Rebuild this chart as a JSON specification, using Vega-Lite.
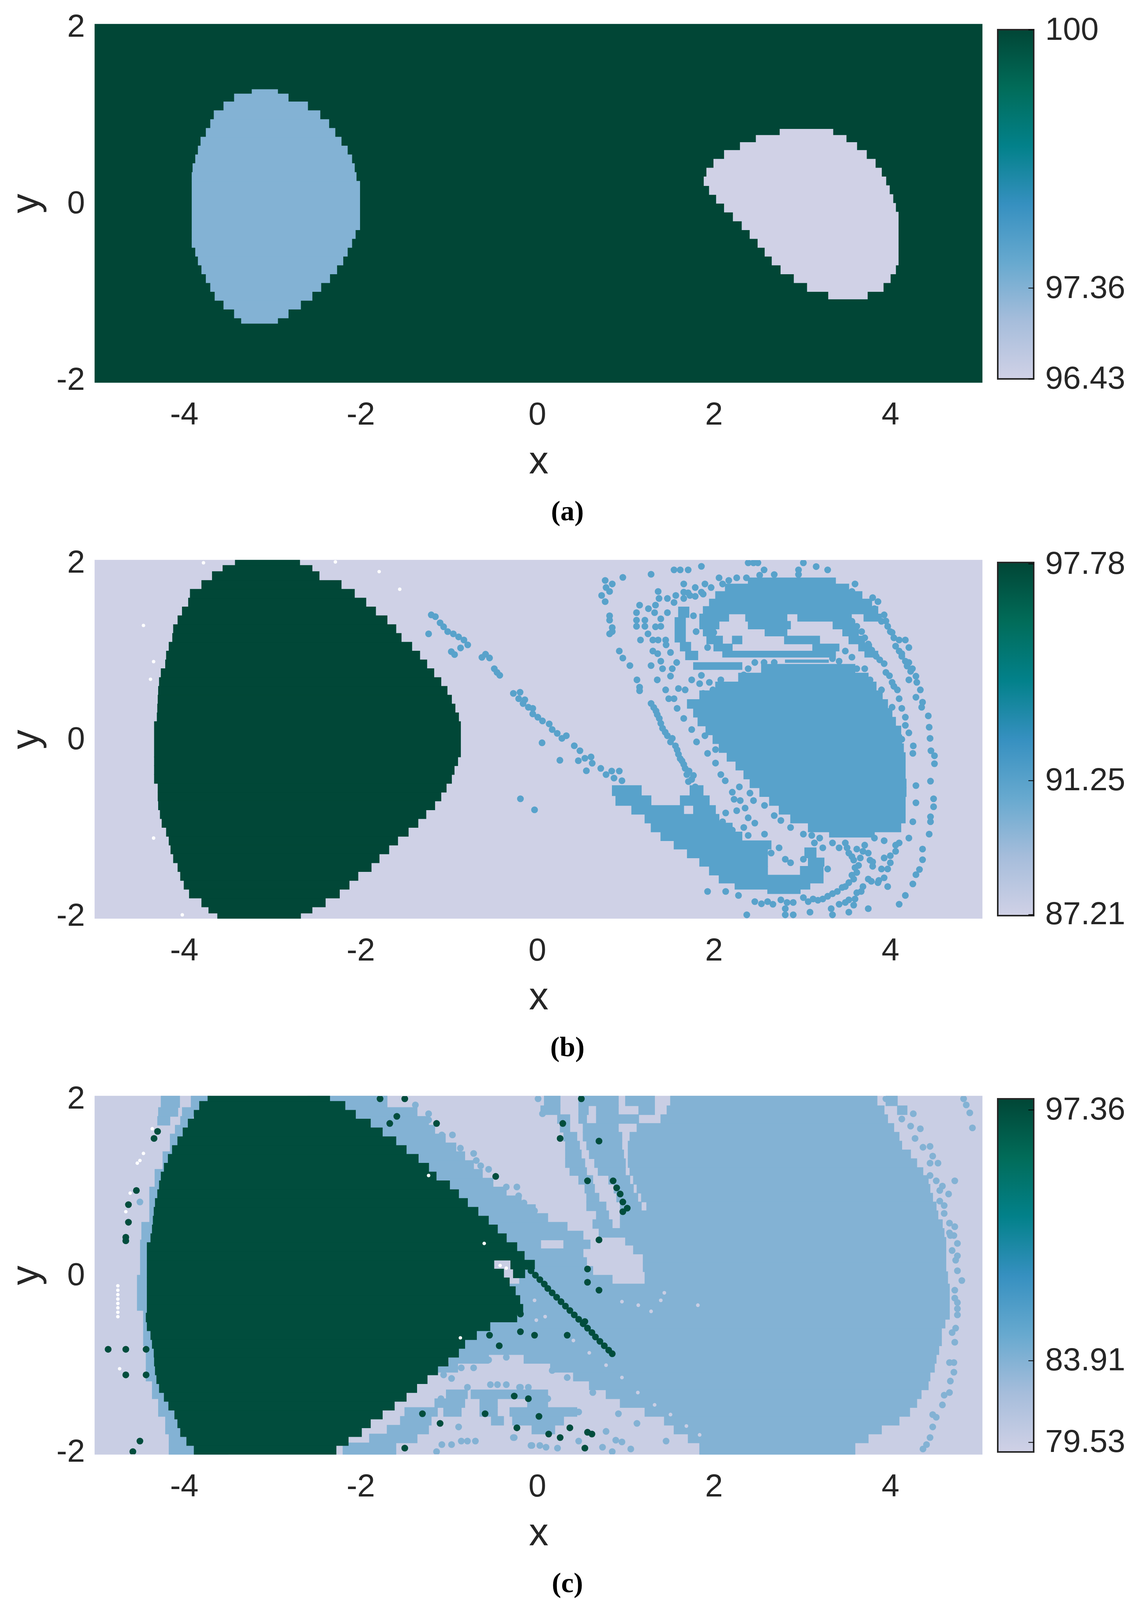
{
"$schema":"https://vega.github.io/schema/vega-lite/v6.json",
"background":"white",
"padding":{"left":17,"top":27,"right":10,"bottom":41},
"config":{"view":{"stroke":null},"axis":{"grid":false,"domain":false,"ticks":false,"labelFont":"Liberation Sans","labelFontSize":82,"labelLimit":500,"labelColor":"#262626","titleFont":"Liberation Sans","titleFontSize":100,"titleFontWeight":"normal","titleColor":"#262626","labelOverlap":false,"labelFlush":false}},
"resolve":{"scale":{"color":"independent","stroke":"independent"}},
"datasets":{
"a_spans":[
{"x":-5.01,"x2":5.04,"y":-2.03,"y2":2.03,"v":100},
{"x":-3.23,"x2":-2.94,"y":1.29,"y2":1.24,"v":97.36},{"x":-3.43,"x2":-2.82,"y":1.24,"y2":1.15,"v":97.36},{"x":-3.55,"x2":-2.6,"y":1.15,"y2":1.05,"v":97.36},{"x":-3.66,"x2":-2.46,"y":1.05,"y2":0.95,"v":97.36},{"x":-3.7,"x2":-2.36,"y":0.95,"y2":0.85,"v":97.36},{"x":-3.75,"x2":-2.29,"y":0.85,"y2":0.75,"v":97.36},{"x":-3.81,"x2":-2.22,"y":0.75,"y2":0.65,"v":97.36},{"x":-3.84,"x2":-2.15,"y":0.65,"y2":0.55,"v":97.36},{"x":-3.87,"x2":-2.1,"y":0.55,"y2":0.45,"v":97.36},{"x":-3.9,"x2":-2.07,"y":0.45,"y2":0.35,"v":97.36},{"x":-3.91,"x2":-2.05,"y":0.35,"y2":0.25,"v":97.36},{"x":-3.91,"x2":-2.01,"y":0.25,"y2":-0.3,"v":97.36},{"x":-3.91,"x2":-2.06,"y":-0.3,"y2":-0.4,"v":97.36},{"x":-3.91,"x2":-2.1,"y":-0.4,"y2":-0.5,"v":97.36},{"x":-3.87,"x2":-2.15,"y":-0.5,"y2":-0.6,"v":97.36},{"x":-3.84,"x2":-2.2,"y":-0.6,"y2":-0.7,"v":97.36},{"x":-3.8,"x2":-2.27,"y":-0.7,"y2":-0.8,"v":97.36},{"x":-3.75,"x2":-2.35,"y":-0.8,"y2":-0.9,"v":97.36},{"x":-3.7,"x2":-2.45,"y":-0.9,"y2":-1,"v":97.36},{"x":-3.65,"x2":-2.55,"y":-1,"y2":-1.1,"v":97.36},{"x":-3.55,"x2":-2.68,"y":-1.1,"y2":-1.2,"v":97.36},{"x":-3.43,"x2":-2.82,"y":-1.2,"y2":-1.3,"v":97.36},{"x":-3.35,"x2":-2.94,"y":-1.3,"y2":-1.36,"v":97.36},
{"x":2.75,"x2":3.35,"y":0.84,"y2":0.77,"v":96.43},{"x":2.48,"x2":3.5,"y":0.77,"y2":0.69,"v":96.43},{"x":2.3,"x2":3.62,"y":0.69,"y2":0.6,"v":96.43},{"x":2.12,"x2":3.73,"y":0.6,"y2":0.5,"v":96.43},{"x":2,"x2":3.83,"y":0.5,"y2":0.4,"v":96.43},{"x":1.92,"x2":3.9,"y":0.4,"y2":0.3,"v":96.43},{"x":1.89,"x2":3.95,"y":0.3,"y2":0.2,"v":96.43},{"x":1.95,"x2":3.99,"y":0.2,"y2":0.1,"v":96.43},{"x":2.03,"x2":4.03,"y":0.1,"y2":0,"v":96.43},{"x":2.12,"x2":4.06,"y":0,"y2":-0.1,"v":96.43},{"x":2.22,"x2":4.09,"y":-0.1,"y2":-0.2,"v":96.43},{"x":2.32,"x2":4.09,"y":-0.2,"y2":-0.3,"v":96.43},{"x":2.41,"x2":4.09,"y":-0.3,"y2":-0.4,"v":96.43},{"x":2.5,"x2":4.09,"y":-0.4,"y2":-0.5,"v":96.43},{"x":2.58,"x2":4.09,"y":-0.5,"y2":-0.6,"v":96.43},{"x":2.66,"x2":4.09,"y":-0.6,"y2":-0.7,"v":96.43},{"x":2.76,"x2":4.06,"y":-0.7,"y2":-0.8,"v":96.43},{"x":2.91,"x2":4,"y":-0.8,"y2":-0.9,"v":96.43},{"x":3.06,"x2":3.92,"y":-0.9,"y2":-1,"v":96.43},{"x":3.3,"x2":3.74,"y":-1,"y2":-1.085,"v":96.43}
],
"b_spans":[
{"x":-5.01,"x2":5.04,"y":-2.03,"y2":2.03,"v":87.21},
{"x":-3.42,"x2":-2.69,"y":2.03,"y2":1.97,"v":97.78},{"x":-3.56,"x2":-2.55,"y":1.97,"y2":1.9,"v":97.78},{"x":-3.68,"x2":-2.47,"y":1.9,"y2":1.8,"v":97.78},{"x":-3.8,"x2":-2.22,"y":1.8,"y2":1.7,"v":97.78},{"x":-3.93,"x2":-2.07,"y":1.7,"y2":1.6,"v":97.78},{"x":-3.95,"x2":-1.94,"y":1.6,"y2":1.5,"v":97.78},{"x":-4.02,"x2":-1.83,"y":1.5,"y2":1.4,"v":97.78},{"x":-4.07,"x2":-1.7,"y":1.4,"y2":1.3,"v":97.78},{"x":-4.12,"x2":-1.6,"y":1.3,"y2":1.2,"v":97.78},{"x":-4.13,"x2":-1.54,"y":1.2,"y2":1.1,"v":97.78},{"x":-4.17,"x2":-1.42,"y":1.1,"y2":1,"v":97.78},{"x":-4.2,"x2":-1.33,"y":1,"y2":0.9,"v":97.78},{"x":-4.21,"x2":-1.25,"y":0.9,"y2":0.8,"v":97.78},{"x":-4.26,"x2":-1.17,"y":0.8,"y2":0.7,"v":97.78},{"x":-4.28,"x2":-1.09,"y":0.7,"y2":0.6,"v":97.78},{"x":-4.29,"x2":-1.02,"y":0.6,"y2":0.5,"v":97.78},{"x":-4.295,"x2":-0.97,"y":0.5,"y2":0.4,"v":97.78},{"x":-4.3,"x2":-0.93,"y":0.4,"y2":0.3,"v":97.78},{"x":-4.305,"x2":-0.89,"y":0.3,"y2":0.2,"v":97.78},{"x":-4.336,"x2":-0.868,"y":0.2,"y2":-0.2,"v":97.78},{"x":-4.336,"x2":-0.9,"y":-0.2,"y2":-0.3,"v":97.78},{"x":-4.336,"x2":-0.94,"y":-0.3,"y2":-0.4,"v":97.78},{"x":-4.336,"x2":-0.97,"y":-0.4,"y2":-0.5,"v":97.78},{"x":-4.295,"x2":-1.03,"y":-0.5,"y2":-0.6,"v":97.78},{"x":-4.295,"x2":-1.09,"y":-0.6,"y2":-0.7,"v":97.78},{"x":-4.29,"x2":-1.16,"y":-0.7,"y2":-0.8,"v":97.78},{"x":-4.27,"x2":-1.26,"y":-0.8,"y2":-0.9,"v":97.78},{"x":-4.25,"x2":-1.35,"y":-0.9,"y2":-1,"v":97.78},{"x":-4.2,"x2":-1.46,"y":-1,"y2":-1.1,"v":97.78},{"x":-4.17,"x2":-1.58,"y":-1.1,"y2":-1.2,"v":97.78},{"x":-4.15,"x2":-1.68,"y":-1.2,"y2":-1.3,"v":97.78},{"x":-4.12,"x2":-1.79,"y":-1.3,"y2":-1.4,"v":97.78},{"x":-4.07,"x2":-1.88,"y":-1.4,"y2":-1.5,"v":97.78},{"x":-4.04,"x2":-2.03,"y":-1.5,"y2":-1.6,"v":97.78},{"x":-4,"x2":-2.13,"y":-1.6,"y2":-1.7,"v":97.78},{"x":-3.94,"x2":-2.24,"y":-1.7,"y2":-1.8,"v":97.78},{"x":-3.8,"x2":-2.4,"y":-1.8,"y2":-1.9,"v":97.78},{"x":-3.72,"x2":-2.55,"y":-1.9,"y2":-1.97,"v":97.78},{"x":-3.62,"x2":-2.68,"y":-1.97,"y2":-2.03,"v":97.78},
{"x":2.54,"x2":3.6,"y":0.85,"y2":0.75,"v":91.25},{"x":2.28,"x2":3.75,"y":0.75,"y2":0.65,"v":91.25},{"x":2.02,"x2":3.84,"y":0.65,"y2":0.55,"v":91.25},{"x":1.84,"x2":3.91,"y":0.55,"y2":0.45,"v":91.25},{"x":1.7,"x2":3.97,"y":0.45,"y2":0.35,"v":91.25},{"x":1.77,"x2":4.02,"y":0.35,"y2":0.25,"v":91.25},{"x":1.82,"x2":4.06,"y":0.25,"y2":0.15,"v":91.25},{"x":1.91,"x2":4.12,"y":0.15,"y2":0.05,"v":91.25},{"x":1.99,"x2":4.13,"y":0.05,"y2":-0.05,"v":91.25},{"x":2.06,"x2":4.15,"y":-0.05,"y2":-0.15,"v":91.25},{"x":2.15,"x2":4.17,"y":-0.15,"y2":-0.25,"v":91.25},{"x":2.25,"x2":4.17,"y":-0.25,"y2":-0.35,"v":91.25},{"x":2.34,"x2":4.17,"y":-0.35,"y2":-0.45,"v":91.25},{"x":2.41,"x2":4.18,"y":-0.45,"y2":-0.55,"v":91.25},{"x":2.52,"x2":4.18,"y":-0.55,"y2":-0.65,"v":91.25},{"x":2.63,"x2":4.17,"y":-0.65,"y2":-0.75,"v":91.25},{"x":2.74,"x2":4.17,"y":-0.75,"y2":-0.85,"v":91.25},{"x":2.87,"x2":4.17,"y":-0.85,"y2":-0.95,"v":91.25},{"x":3.07,"x2":4.12,"y":-0.95,"y2":-1.05,"v":91.25},{"x":3.31,"x2":3.82,"y":-1.05,"y2":-1.11,"v":91.25},
{"x":2.81,"x2":3.3,"y":0.9,"y2":0.87,"v":91.25},
{"x":2.39,"x2":3.38,"y":1.83,"y2":1.76,"v":91.25},{"x":2.13,"x2":3.53,"y":1.76,"y2":1.675,"v":91.25},{"x":2.02,"x2":3.68,"y":1.675,"y2":1.59,"v":91.25},{"x":1.95,"x2":3.79,"y":1.59,"y2":1.505,"v":91.25},{"x":1.88,"x2":3.86,"y":1.505,"y2":1.42,"v":91.25},
{"x":1.84,"x2":2.17,"y":1.42,"y2":1.337,"v":91.25},{"x":2.36,"x2":2.83,"y":1.42,"y2":1.337,"v":91.25},{"x":2.95,"x2":3.56,"y":1.42,"y2":1.337,"v":91.25},{"x":3.7,"x2":3.9,"y":1.42,"y2":1.337,"v":91.25},
{"x":1.84,"x2":2.06,"y":1.337,"y2":1.25,"v":91.25},{"x":2.39,"x2":2.87,"y":1.337,"y2":1.25,"v":91.25},{"x":3.35,"x2":3.6,"y":1.337,"y2":1.25,"v":91.25},
{"x":1.88,"x2":2.02,"y":1.25,"y2":1.17,"v":91.25},{"x":2.58,"x2":2.83,"y":1.25,"y2":1.17,"v":91.25},{"x":3.46,"x2":3.64,"y":1.25,"y2":1.17,"v":91.25},
{"x":1.92,"x2":2.1,"y":1.17,"y2":1.08,"v":91.25},{"x":2.21,"x2":2.32,"y":1.17,"y2":1.08,"v":91.25},{"x":2.8,"x2":3.2,"y":1.17,"y2":1.08,"v":91.25},{"x":3.53,"x2":3.71,"y":1.17,"y2":1.08,"v":91.25},
{"x":2,"x2":2.21,"y":1.08,"y2":1,"v":91.25},{"x":3.12,"x2":3.42,"y":1.08,"y2":1,"v":91.25},{"x":3.64,"x2":3.79,"y":1.08,"y2":1,"v":91.25},
{"x":2.1,"x2":3.38,"y":1,"y2":0.93,"v":91.25},{"x":3.71,"x2":3.86,"y":1,"y2":0.93,"v":91.25},
{"x":1.6,"x2":1.72,"y":1.5,"y2":1.38,"v":91.25},{"x":1.56,"x2":1.68,"y":1.38,"y2":1.1,"v":91.25},{"x":1.62,"x2":1.74,"y":1.1,"y2":1,"v":91.25},{"x":1.68,"x2":1.82,"y":1,"y2":0.9,"v":91.25},{"x":1.77,"x2":2.32,"y":0.87,"y2":0.79,"v":91.25},
{"x":0.85,"x2":1.18,"y":-0.525,"y2":-0.64,"v":91.25},{"x":1.73,"x2":1.88,"y":-0.525,"y2":-0.64,"v":91.25},
{"x":0.89,"x2":1.29,"y":-0.64,"y2":-0.75,"v":91.25},{"x":1.62,"x2":1.95,"y":-0.64,"y2":-0.75,"v":91.25},
{"x":1.07,"x2":1.66,"y":-0.75,"y2":-0.85,"v":91.25},{"x":1.77,"x2":2.02,"y":-0.75,"y2":-0.85,"v":91.25},
{"x":1.22,"x2":2.06,"y":-0.85,"y2":-0.95,"v":91.25},{"x":1.29,"x2":2.21,"y":-0.95,"y2":-1.05,"v":91.25},{"x":1.4,"x2":2.32,"y":-1.05,"y2":-1.15,"v":91.25},{"x":1.55,"x2":2.65,"y":-1.15,"y2":-1.245,"v":91.25},{"x":1.7,"x2":2.61,"y":-1.245,"y2":-1.345,"v":91.25},{"x":3.03,"x2":3.16,"y":-1.23,"y2":-1.345,"v":91.25},{"x":1.84,"x2":2.61,"y":-1.345,"y2":-1.44,"v":91.25},{"x":3.07,"x2":3.25,"y":-1.345,"y2":-1.44,"v":91.25},{"x":1.95,"x2":2.61,"y":-1.44,"y2":-1.54,"v":91.25},{"x":2.98,"x2":3.24,"y":-1.44,"y2":-1.54,"v":91.25},{"x":2.06,"x2":3.24,"y":-1.54,"y2":-1.63,"v":91.25},{"x":2.24,"x2":3.09,"y":-1.63,"y2":-1.7,"v":91.25},{"x":2.61,"x2":2.98,"y":-1.7,"y2":-1.75,"v":91.25}
],
"b_dots":[
{"x":-1.2,"y":1.41,"v":91.25},{"x":-1.153,"y":1.39,"v":91.25},{"x":-1.23,"y":1.195,"v":91.25},{"x":-1.1,"y":1.32,"v":91.25},{"x":-1.06,"y":1.275,"v":91.25},{"x":-1.014,"y":1.22,"v":91.25},{"x":-0.95,"y":1.195,"v":91.25},{"x":-0.89,"y":1.16,"v":91.25},{"x":-0.83,"y":1.125,"v":91.25},{"x":-0.787,"y":1.07,"v":91.25},{"x":-0.868,"y":1.035,"v":91.25},{"x":-0.973,"y":0.993,"v":91.25},{"x":-0.936,"y":0.96,"v":91.25},{"x":-0.626,"y":0.928,"v":91.25},{"x":-0.585,"y":0.964,"v":91.25},{"x":-0.54,"y":0.922,"v":91.25},{"x":-0.486,"y":0.8,"v":91.25},{"x":-0.455,"y":0.758,"v":91.25},{"x":-0.424,"y":0.725,"v":91.25},
{"x":-0.27,"y":0.52,"v":91.25},{"x":-0.194,"y":0.533,"v":91.25},{"x":-0.21,"y":0.46,"v":91.25},{"x":-0.14,"y":0.448,"v":91.25},{"x":-0.16,"y":0.405,"v":91.25},{"x":-0.1,"y":0.363,"v":91.25},{"x":-0.05,"y":0.35,"v":91.25},{"x":-0.05,"y":0.287,"v":91.25},{"x":0.007,"y":0.25,"v":91.25},{"x":0.06,"y":0.208,"v":91.25},{"x":0.136,"y":0.174,"v":91.25},{"x":0.17,"y":0.11,"v":91.25},{"x":0.227,"y":0.067,"v":91.25},{"x":0.28,"y":0.01,"v":91.25},{"x":0.33,"y":0.04,"v":91.25},{"x":0.055,"y":-0.04,"v":91.25},{"x":0.257,"y":-0.238,"v":91.25},{"x":0.42,"y":-0.074,"v":91.25},{"x":0.484,"y":-0.13,"v":91.25},{"x":0.54,"y":-0.215,"v":91.25},{"x":0.61,"y":-0.2,"v":91.25},{"x":0.466,"y":-0.243,"v":91.25},{"x":0.557,"y":-0.357,"v":91.25},{"x":0.623,"y":-0.272,"v":91.25},{"x":0.72,"y":-0.33,"v":91.25},{"x":0.78,"y":-0.4,"v":91.25},{"x":0.844,"y":-0.36,"v":91.25},{"x":0.93,"y":-0.36,"v":91.25},{"x":0.87,"y":-0.44,"v":91.25},{"x":0.96,"y":-0.47,"v":91.25},{"x":-0.19,"y":-0.675,"v":91.25},{"x":-0.03,"y":-0.8,"v":91.25},
{"x":1.29,"y":0.406,"v":91.25},{"x":1.346,"y":0.32,"v":91.25},{"x":1.383,"y":0.236,"v":91.25},{"x":1.42,"y":0.124,"v":91.25},{"x":1.475,"y":0.04,"v":91.25},{"x":1.51,"y":-0.03,"v":91.25},{"x":1.566,"y":-0.075,"v":91.25},{"x":1.6,"y":-0.17,"v":91.25},{"x":1.64,"y":-0.245,"v":91.25},{"x":1.676,"y":-0.33,"v":91.25},{"x":1.695,"y":-0.4,"v":91.25},{"x":1.77,"y":-0.41,"v":91.25},{"x":1.713,"y":-0.48,"v":91.25},
{"x":1.32,"y":0.36,"v":91.25},{"x":1.36,"y":0.28,"v":91.25},{"x":1.4,"y":0.18,"v":91.25},{"x":1.45,"y":0.08,"v":91.25},{"x":1.53,"y":0.01,"v":91.25},{"x":1.585,"y":-0.12,"v":91.25},{"x":1.62,"y":-0.22,"v":91.25},{"x":1.66,"y":-0.285,"v":91.25},{"x":1.72,"y":-0.36,"v":91.25},{"x":1.75,"y":-0.455,"v":91.25},{"x":1.79,"y":-0.54,"v":91.25},
{"x":3.62,"y":1.28,"v":91.25},{"x":3.71,"y":1.15,"v":91.25},{"x":3.79,"y":1.01,"v":91.25},{"x":3.88,"y":0.9,"v":91.25},{"x":3.99,"y":0.72,"v":91.25},{"x":4.04,"y":0.6,"v":91.25},{"x":3.95,"y":1.34,"v":91.25},{"x":4.04,"y":1.15,"v":91.25},{"x":4.1,"y":1,"v":91.25},{"x":4.17,"y":0.885,"v":91.25},{"x":4.23,"y":0.77,"v":91.25},
{"x":3.51,"y":-1.23,"v":91.25},{"x":3.565,"y":-1.33,"v":91.25},{"x":3.64,"y":-1.43,"v":91.25},{"x":3.62,"y":-1.51,"v":91.25},{"x":3.585,"y":-1.585,"v":91.25},{"x":3.49,"y":-1.67,"v":91.25},{"x":3.4,"y":-1.725,"v":91.25},{"x":3.29,"y":-1.78,"v":91.25},{"x":3.18,"y":-1.825,"v":91.25},{"x":3.07,"y":-1.84,"v":91.25},{"x":2.83,"y":-1.85,"v":91.25},{"x":2.61,"y":-1.84,"v":91.25},{"x":3.69,"y":-1.27,"v":91.25},{"x":3.77,"y":-1.37,"v":91.25},{"x":4,"y":-1.32,"v":91.25},{"x":4.06,"y":-1.2,"v":91.25},{"x":3.67,"y":-1.725,"v":91.25},{"x":3.785,"y":-1.61,"v":91.25},{"x":3.6,"y":-1.81,"v":91.25},{"x":3.49,"y":-1.85,"v":91.25},{"x":3.87,"y":-1.6,"v":91.25},
{"x":1.49,"y":0.46,"v":91.25},{"x":1.585,"y":0.35,"v":91.25},{"x":1.66,"y":0.236,"v":91.25},{"x":1.75,"y":0.11,"v":91.25},{"x":1.805,"y":-0.03,"v":91.25},{"x":1.9,"y":0.04,"v":91.25},{"x":1.93,"y":-0.16,"v":91.25},{"x":2.02,"y":-0.117,"v":91.25},{"x":2.02,"y":-0.27,"v":91.25},{"x":2.08,"y":-0.4,"v":91.25},{"x":2.13,"y":-0.47,"v":91.25},{"x":2.21,"y":-0.6,"v":91.25},{"x":2.29,"y":-0.54,"v":91.25},{"x":2.23,"y":-0.68,"v":91.25},{"x":2.3,"y":-0.695,"v":91.25},{"x":2.26,"y":-0.81,"v":91.25},{"x":2.41,"y":-0.61,"v":91.25},{"x":2.45,"y":-0.695,"v":91.25},{"x":2.355,"y":-0.78,"v":91.25},{"x":2.39,"y":-0.89,"v":91.25},{"x":2.465,"y":-0.95,"v":91.25},{"x":2.135,"y":-0.835,"v":91.25},{"x":2.1,"y":-0.935,"v":91.25},{"x":2.21,"y":-1.03,"v":91.25},{"x":2.34,"y":-1,"v":91.25},{"x":2.39,"y":-1.09,"v":91.25},{"x":2.575,"y":-1.075,"v":91.25},
{"x":2.575,"y":-0.75,"v":91.25},{"x":2.685,"y":-0.865,"v":91.25},{"x":2.76,"y":-0.92,"v":91.25},{"x":2.87,"y":-1,"v":91.25},{"x":3.015,"y":-1.075,"v":91.25},{"x":3.11,"y":-1.09,"v":91.25},{"x":3.2,"y":-1.12,"v":91.25},{"x":3.14,"y":-1.175,"v":91.25},{"x":3.235,"y":-1.23,"v":91.25},{"x":3.345,"y":-1.175,"v":91.25},{"x":3.42,"y":-1.23,"v":91.25},{"x":2.74,"y":-1.23,"v":91.25},{"x":2.65,"y":-1.29,"v":91.25},{"x":2.81,"y":-1.36,"v":91.25},{"x":3.015,"y":-1.36,"v":91.25},{"x":2.87,"y":-1.4,"v":91.25},{"x":3.29,"y":-1.47,"v":91.25},
{"x":3.49,"y":-1.175,"v":91.25},{"x":3.53,"y":-1.29,"v":91.25},{"x":3.585,"y":-1.37,"v":91.25},{"x":3.6,"y":-1.455,"v":91.25},{"x":3.565,"y":-1.54,"v":91.25},{"x":3.53,"y":-1.625,"v":91.25},{"x":3.455,"y":-1.68,"v":91.25},{"x":3.345,"y":-1.75,"v":91.25},{"x":3.235,"y":-1.81,"v":91.25},{"x":3.125,"y":-1.81,"v":91.25},{"x":3.015,"y":-1.795,"v":91.25},{"x":2.9,"y":-1.85,"v":91.25},{"x":2.76,"y":-1.82,"v":91.25},{"x":2.67,"y":-1.87,"v":91.25},{"x":2.54,"y":-1.865,"v":91.25},{"x":2.465,"y":-1.84,"v":91.25},{"x":2.28,"y":-1.77,"v":91.25},{"x":2.135,"y":-1.725,"v":91.25},{"x":1.93,"y":-1.725,"v":91.25},{"x":2.374,"y":-1.99,"v":91.25},{"x":2.81,"y":-1.92,"v":91.25},{"x":2.81,"y":-1.99,"v":91.25},{"x":2.9,"y":-1.99,"v":91.25},{"x":3.09,"y":-1.96,"v":91.25},{"x":3.345,"y":-1.99,"v":91.25},{"x":3.33,"y":-1.92,"v":91.25},{"x":3.62,"y":-1.245,"v":91.25},{"x":3.66,"y":-1.345,"v":91.25},{"x":3.71,"y":-1.2,"v":91.25},{"x":3.75,"y":-1.29,"v":91.25},{"x":3.8,"y":-1.39,"v":91.25},{"x":3.8,"y":-1.44,"v":91.25},{"x":3.82,"y":-1.12,"v":91.25},{"x":3.93,"y":-1.15,"v":91.25},
{"x":3.93,"y":-1.345,"v":91.25},{"x":4,"y":-1.4,"v":91.25},{"x":4.06,"y":-1.27,"v":91.25},{"x":4.1,"y":-1.175,"v":91.25},{"x":3.9,"y":-1.47,"v":91.25},{"x":3.97,"y":-1.47,"v":91.25},{"x":3.93,"y":-1.57,"v":91.25},{"x":3.86,"y":-1.625,"v":91.25},{"x":3.97,"y":-1.67,"v":91.25},{"x":3.75,"y":-1.585,"v":91.25},{"x":3.69,"y":-1.67,"v":91.25},{"x":3.62,"y":-1.74,"v":91.25},{"x":3.53,"y":-1.82,"v":91.25},{"x":3.585,"y":-1.88,"v":91.25},{"x":3.53,"y":-1.96,"v":91.25},{"x":3.75,"y":-1.92,"v":91.25},{"x":3.42,"y":-1.87,"v":91.25},
{"x":3.6,"y":1.76,"v":91.25},{"x":3.8,"y":1.605,"v":91.25},{"x":3.86,"y":1.56,"v":91.25},{"x":3.93,"y":1.41,"v":91.25},{"x":3.97,"y":1.28,"v":91.25},{"x":4.02,"y":1.21,"v":91.25},{"x":4.1,"y":1.125,"v":91.25},{"x":4.17,"y":1.125,"v":91.25},{"x":4.21,"y":1.04,"v":91.25},{"x":4.13,"y":0.97,"v":91.25},{"x":4.21,"y":0.87,"v":91.25},{"x":4.25,"y":0.8,"v":91.25},{"x":4.29,"y":0.715,"v":91.25},{"x":4.3,"y":0.645,"v":91.25},{"x":4.34,"y":0.56,"v":91.25},{"x":4.29,"y":0.476,"v":91.25},{"x":4.365,"y":0.42,"v":91.25},{"x":4.355,"y":0.363,"v":91.25},{"x":4.43,"y":0.265,"v":91.25},{"x":4.44,"y":0.137,"v":91.25},{"x":4.45,"y":0.01,"v":91.25},{"x":4.46,"y":-0.13,"v":91.25},{"x":4.5,"y":-0.187,"v":91.25},{"x":4.5,"y":-0.277,"v":91.25},{"x":4.455,"y":-0.475,"v":91.25},{"x":4.29,"y":-0.525,"v":91.25},{"x":4.49,"y":-0.675,"v":91.25},{"x":4.29,"y":-0.72,"v":91.25},{"x":4.49,"y":-0.765,"v":91.25},{"x":4.455,"y":-0.878,"v":91.25},{"x":4.455,"y":-0.935,"v":91.25},{"x":4.255,"y":-0.935,"v":91.25},{"x":4.44,"y":-1.075,"v":91.25},{"x":4.21,"y":-1.12,"v":91.25},{"x":4.365,"y":-1.245,"v":91.25},{"x":4.365,"y":-1.365,"v":91.25},{"x":4.33,"y":-1.476,"v":91.25},{"x":4.29,"y":-1.535,"v":91.25},{"x":4.255,"y":-1.64,"v":91.25},{"x":4.17,"y":-1.77,"v":91.25},{"x":4.1,"y":-1.87,"v":91.25},{"x":4.26,"y":-0.075,"v":91.25},{"x":4.255,"y":-0.16,"v":91.25},{"x":4.21,"y":0.073,"v":91.25},{"x":4.17,"y":0.158,"v":91.25},{"x":4.17,"y":0.25,"v":91.25},{"x":4.13,"y":0,"v":91.25},{"x":4.02,"y":0.363,"v":91.25},{"x":3.9,"y":0.56,"v":91.25},
{"x":3.565,"y":1.675,"v":91.25},{"x":3.82,"y":1.48,"v":91.25},{"x":3.9,"y":1.337,"v":91.25},{"x":4,"y":1.22,"v":91.25},{"x":4.06,"y":1.055,"v":91.25},{"x":4.13,"y":0.94,"v":91.25},{"x":4.19,"y":0.83,"v":91.25},{"x":4.21,"y":0.673,"v":91.25},
{"x":3.565,"y":1.337,"v":91.25},{"x":3.675,"y":1.22,"v":91.25},{"x":3.75,"y":1.08,"v":91.25},{"x":3.84,"y":0.94,"v":91.25},{"x":3.93,"y":0.857,"v":91.25},{"x":3.95,"y":0.758,"v":91.25},{"x":4.02,"y":0.645,"v":91.25},{"x":4.08,"y":0.56,"v":91.25},{"x":4.1,"y":0.46,"v":91.25},{"x":4.13,"y":0.35,"v":91.25},
{"x":3.565,"y":0.93,"v":91.25},{"x":3.71,"y":0.8,"v":91.25},{"x":3.77,"y":0.673,"v":91.25},{"x":3.62,"y":0.8,"v":91.25},{"x":3.49,"y":1,"v":91.25},{"x":3.42,"y":0.885,"v":91.25},{"x":3.345,"y":0.914,"v":91.25},
{"x":2.39,"y":2,"v":91.25},{"x":2.45,"y":2,"v":91.25},{"x":2.5,"y":2,"v":91.25},{"x":3.015,"y":2,"v":91.25},{"x":3.16,"y":1.957,"v":91.25},{"x":3.29,"y":1.92,"v":91.25},{"x":2.96,"y":1.92,"v":91.25},{"x":2.96,"y":1.867,"v":91.25},{"x":2.57,"y":1.92,"v":91.25},{"x":2.685,"y":1.867,"v":91.25},{"x":2.52,"y":1.86,"v":91.25},{"x":2.37,"y":1.83,"v":91.25},{"x":2.26,"y":1.83,"v":91.25},{"x":2.17,"y":1.8,"v":91.25},{"x":2.06,"y":1.83,"v":91.25},{"x":2.1,"y":1.76,"v":91.25},{"x":1.97,"y":1.72,"v":91.25},{"x":1.9,"y":1.76,"v":91.25},{"x":1.79,"y":1.72,"v":91.25},{"x":1.66,"y":1.76,"v":91.25},{"x":1.66,"y":1.667,"v":91.25},{"x":1.86,"y":1.667,"v":91.25},{"x":1.73,"y":1.63,"v":91.25},
{"x":1.86,"y":1.96,"v":91.25},{"x":1.71,"y":1.92,"v":91.25},{"x":1.55,"y":1.92,"v":91.25},{"x":1.62,"y":1.92,"v":91.25},{"x":1.29,"y":1.87,"v":91.25},{"x":0.97,"y":1.835,"v":91.25},{"x":0.77,"y":1.8,"v":91.25},{"x":0.85,"y":1.76,"v":91.25},{"x":0.78,"y":1.72,"v":91.25},{"x":0.82,"y":1.675,"v":91.25},{"x":0.73,"y":1.63,"v":91.25},{"x":0.77,"y":1.56,"v":91.25},{"x":0.82,"y":1.4,"v":91.25},{"x":0.82,"y":1.35,"v":91.25},{"x":0.85,"y":1.266,"v":91.25},{"x":0.85,"y":1.22,"v":91.25},{"x":0.82,"y":1.195,"v":91.25},{"x":0.93,"y":1,"v":91.25},{"x":0.97,"y":0.92,"v":91.25},{"x":1.05,"y":0.835,"v":91.25},{"x":1.13,"y":0.673,"v":91.25},{"x":1.16,"y":0.59,"v":91.25},{"x":1.16,"y":0.55,"v":91.25},{"x":1.29,"y":0.835,"v":91.25},{"x":1.36,"y":0.673,"v":91.25},{"x":1.455,"y":0.56,"v":91.25},
{"x":1.16,"y":1.52,"v":91.25},{"x":1.125,"y":1.435,"v":91.25},{"x":1.125,"y":1.35,"v":91.25},{"x":1.125,"y":1.28,"v":91.25},{"x":1.22,"y":1.35,"v":91.25},{"x":1.22,"y":1.28,"v":91.25},{"x":1.255,"y":1.195,"v":91.25},{"x":1.31,"y":1.125,"v":91.25},{"x":1.37,"y":1.125,"v":91.25},{"x":1.17,"y":1.125,"v":91.25},{"x":1.26,"y":1.48,"v":91.25},{"x":1.33,"y":1.435,"v":91.25},{"x":1.34,"y":1.52,"v":91.25},{"x":1.4,"y":1.365,"v":91.25},{"x":1.4,"y":1.28,"v":91.25},{"x":1.34,"y":1.275,"v":91.25},{"x":1.455,"y":1.125,"v":91.25},{"x":1.46,"y":1.07,"v":91.25},{"x":1.31,"y":1,"v":91.25},{"x":1.365,"y":0.97,"v":91.25},{"x":1.4,"y":0.885,"v":91.25},{"x":1.42,"y":0.8,"v":91.25},{"x":1.51,"y":0.716,"v":91.25},{"x":1.37,"y":1.675,"v":91.25},{"x":1.38,"y":1.596,"v":91.25},{"x":1.475,"y":1.596,"v":91.25},{"x":1.57,"y":1.63,"v":91.25},{"x":1.55,"y":1.55,"v":91.25},{"x":1.475,"y":1.435,"v":91.25},{"x":1.66,"y":1.596,"v":91.25},{"x":1.71,"y":1.66,"v":91.25},{"x":1.79,"y":1.62,"v":91.25},{"x":1.88,"y":1.645,"v":91.25},{"x":1.77,"y":1.4,"v":91.25},
{"x":1.8,"y":1.22,"v":91.25},{"x":2,"y":1.21,"v":91.25},{"x":1.93,"y":1.04,"v":91.25},{"x":1.51,"y":0.984,"v":91.25},{"x":1.53,"y":0.8,"v":91.25},{"x":1.58,"y":0.87,"v":91.25},{"x":1.86,"y":0.724,"v":91.25},{"x":1.75,"y":0.673,"v":91.25},{"x":1.84,"y":0.63,"v":91.25},{"x":1.95,"y":0.645,"v":91.25},{"x":2.08,"y":0.673,"v":91.25},{"x":1.88,"y":0.52,"v":91.25},{"x":1.676,"y":0.56,"v":91.25},{"x":1.55,"y":0.46,"v":91.25},{"x":1.6,"y":0.575,"v":91.25},{"x":1.99,"y":0.56,"v":91.25},{"x":2.39,"y":0.8,"v":91.25},{"x":2.34,"y":0.73,"v":91.25},{"x":2.465,"y":0.87,"v":91.25},{"x":2.57,"y":0.87,"v":91.25},{"x":2.685,"y":0.87,"v":91.25}
],
"b_specks":[{"x":-1.79,"y":1.9},{"x":-1.557,"y":1.7},{"x":-2.286,"y":2.01},{"x":-3.78,"y":2},{"x":-4.02,"y":-1.99},{"x":-4.46,"y":1.29},{"x":-4.345,"y":0.88},{"x":-4.38,"y":0.68},{"x":-4.345,"y":-1.12}],
"c_spans":[
{"x":-5.01,"x2":5.04,"y":-2.03,"y2":2.03,"v":79.53},
{"x":1.51,"x2":3.85,"y":2.03,"y2":1.92,"v":83.91},{"x":1,"x2":1.33,"y":2.03,"y2":1.92,"v":83.91},{"x":3.95,"x2":4.08,"y":2.03,"y2":1.92,"v":83.91},{"x":0.47,"x2":0.92,"y":2.03,"y2":1.92,"v":83.91},{"x":0.08,"x2":0.26,"y":2.03,"y2":1.92,"v":83.91},
{"x":1.47,"x2":3.93,"y":1.92,"y2":1.82,"v":83.91},{"x":1.15,"x2":1.33,"y":1.92,"y2":1.82,"v":83.91},{"x":4.08,"x2":4.19,"y":1.92,"y2":1.82,"v":83.91},{"x":0.67,"x2":0.92,"y":1.92,"y2":1.82,"v":83.91},{"x":0.47,"x2":0.58,"y":1.92,"y2":1.82,"v":83.91},{"x":0.04,"x2":0.26,"y":1.92,"y2":1.82,"v":83.91},
{"x":1.4,"x2":3.97,"y":1.82,"y2":1.72,"v":83.91},{"x":0.67,"x2":1.15,"y":1.82,"y2":1.72,"v":83.91},{"x":0.47,"x2":0.56,"y":1.82,"y2":1.72,"v":83.91},{"x":0.23,"x2":0.37,"y":1.82,"y2":1.72,"v":83.91},
{"x":1.13,"x2":4.04,"y":1.72,"y2":1.62,"v":83.91},{"x":0.52,"x2":0.92,"y":1.72,"y2":1.62,"v":83.91},{"x":0.26,"x2":0.37,"y":1.72,"y2":1.62,"v":83.91},
{"x":1.05,"x2":4.1,"y":1.62,"y2":1.52,"v":83.91},{"x":0.52,"x2":0.96,"y":1.62,"y2":1.52,"v":83.91},{"x":0.3,"x2":0.45,"y":1.62,"y2":1.52,"v":83.91},
{"x":1.03,"x2":4.13,"y":1.52,"y2":1.42,"v":83.91},{"x":0.56,"x2":0.96,"y":1.52,"y2":1.42,"v":83.91},{"x":0.32,"x2":0.48,"y":1.52,"y2":1.42,"v":83.91},
{"x":1.03,"x2":4.23,"y":1.42,"y2":1.32,"v":83.91},{"x":0.59,"x2":0.98,"y":1.42,"y2":1.32,"v":83.91},{"x":0.32,"x2":0.5,"y":1.42,"y2":1.32,"v":83.91},
{"x":1.03,"x2":4.3,"y":1.32,"y2":1.22,"v":83.91},{"x":0.65,"x2":1,"y":1.32,"y2":1.22,"v":83.91},{"x":0.32,"x2":0.54,"y":1.32,"y2":1.22,"v":83.91},
{"x":1.05,"x2":4.37,"y":1.22,"y2":1.13,"v":83.91},{"x":0.69,"x2":1,"y":1.22,"y2":1.13,"v":83.91},{"x":0.37,"x2":0.56,"y":1.22,"y2":1.13,"v":83.91},
{"x":1.09,"x2":4.43,"y":1.13,"y2":1.03,"v":83.91},{"x":0.81,"x2":1.05,"y":1.13,"y2":1.03,"v":83.91},{"x":0.47,"x2":0.63,"y":1.13,"y2":1.03,"v":83.91},
{"x":1.13,"x2":4.45,"y":1.03,"y2":0.93,"v":83.91},{"x":0.87,"x2":1.09,"y":1.03,"y2":0.93,"v":83.91},{"x":0.54,"x2":0.65,"y":1.03,"y2":0.93,"v":83.91},
{"x":1.18,"x2":4.48,"y":0.93,"y2":0.83,"v":83.91},{"x":0.9,"x2":1.14,"y":0.93,"y2":0.83,"v":83.91},{"x":0.56,"x2":0.7,"y":0.93,"y2":0.83,"v":83.91},
{"x":1.24,"x2":4.52,"y":0.83,"y2":0.73,"v":83.91},{"x":0.94,"x2":1.18,"y":0.83,"y2":0.73,"v":83.91},{"x":0.56,"x2":0.78,"y":0.83,"y2":0.73,"v":83.91},
{"x":0.94,"x2":4.54,"y":0.73,"y2":0.63,"v":83.91},{"x":0.67,"x2":0.81,"y":0.73,"y2":0.63,"v":83.91},
{"x":0.94,"x2":4.59,"y":0.63,"y2":0.53,"v":83.91},{"x":0.63,"x2":0.85,"y":0.63,"y2":0.53,"v":83.91},
{"x":0.7,"x2":4.61,"y":0.53,"y2":0.43,"v":83.91},{"x":1,"x2":4.63,"y":0.43,"y2":0.34,"v":83.91},{"x":1.09,"x2":4.63,"y":0.34,"y2":0.24,"v":83.91},{"x":1.2,"x2":4.63,"y":0.24,"y2":0.14,"v":83.91},{"x":1.2,"x2":4.63,"y":0.14,"y2":0.04,"v":83.91},{"x":1.22,"x2":4.65,"y":0.04,"y2":-0.1,"v":83.91},
{"x":-2.6,"x2":-1.7,"y":2.03,"y2":1.9,"v":83.91},{"x":-2.3,"x2":-1.36,"y":1.9,"y2":1.8,"v":83.91},{"x":-2.2,"x2":-1.23,"y":1.8,"y2":1.7,"v":83.91},{"x":-2,"x2":-1.16,"y":1.7,"y2":1.6,"v":83.91},{"x":-1.9,"x2":-1.04,"y":1.6,"y2":1.5,"v":83.91},{"x":-1.8,"x2":-0.92,"y":1.5,"y2":1.4,"v":83.91},{"x":-1.7,"x2":-0.82,"y":1.4,"y2":1.3,"v":83.91},{"x":-1.5,"x2":-0.72,"y":1.3,"y2":1.2,"v":83.91},{"x":-1.3,"x2":-0.62,"y":1.2,"y2":1.1,"v":83.91},{"x":-1.2,"x2":-0.5,"y":1.1,"y2":1,"v":83.91},{"x":-1.1,"x2":-0.35,"y":1,"y2":0.9,"v":83.91},{"x":-1,"x2":-0.18,"y":0.9,"y2":0.8,"v":83.91},{"x":-0.9,"x2":-0.02,"y":0.8,"y2":0.7,"v":83.91},{"x":-0.8,"x2":0.12,"y":0.7,"y2":0.6,"v":83.91},{"x":-0.6,"x2":0.34,"y":0.6,"y2":0.5,"v":83.91},{"x":-0.5,"x2":0.52,"y":0.5,"y2":0.4,"v":83.91},{"x":-0.4,"x2":0.04,"y":0.4,"y2":0.3,"v":83.91},{"x":0.3,"x2":0.6,"y":0.4,"y2":0.3,"v":83.91},{"x":-0.4,"x2":0.52,"y":0.3,"y2":0.2,"v":83.91},{"x":-0.3,"x2":0.56,"y":0.2,"y2":0.1,"v":83.91},{"x":-0.2,"x2":0.63,"y":0.1,"y2":0,"v":83.91},{"x":-0.2,"x2":0.85,"y":0,"y2":-0.1,"v":83.91},
{"x":-0.4,"x2":4.67,"y":-0.1,"y2":-0.5,"v":83.91},{"x":-0.6,"x2":4.62,"y":-0.5,"y2":-0.6,"v":83.91},{"x":-0.75,"x2":4.58,"y":-0.6,"y2":-0.7,"v":83.91},{"x":-0.85,"x2":4.58,"y":-0.7,"y2":-0.8,"v":83.91},{"x":-0.95,"x2":4.55,"y":-0.8,"y2":-0.9,"v":83.91},{"x":-1,"x2":-0.55,"y":-0.9,"y2":-1,"v":83.91},{"x":-0.15,"x2":4.52,"y":-0.9,"y2":-1,"v":83.91},{"x":-1.15,"x2":-0.9,"y":-1,"y2":-1.1,"v":83.91},{"x":0.15,"x2":4.5,"y":-1,"y2":-1.1,"v":83.91},{"x":0.41,"x2":4.45,"y":-1.1,"y2":-1.2,"v":83.91},{"x":0.59,"x2":4.43,"y":-1.2,"y2":-1.3,"v":83.91},{"x":0.78,"x2":4.35,"y":-1.3,"y2":-1.4,"v":83.91},{"x":0.94,"x2":4.3,"y":-1.4,"y2":-1.5,"v":83.91},{"x":1.22,"x2":4.22,"y":-1.5,"y2":-1.6,"v":83.91},{"x":1.44,"x2":4.1,"y":-1.6,"y2":-1.7,"v":83.91},{"x":1.55,"x2":3.9,"y":-1.7,"y2":-1.8,"v":83.91},{"x":1.71,"x2":3.75,"y":-1.8,"y2":-1.9,"v":83.91},{"x":1.84,"x2":3.6,"y":-1.9,"y2":-2.03,"v":83.91},
{"x":-1.03,"x2":-0.79,"y":-1.3,"y2":-1.4,"v":83.91},{"x":-0.75,"x2":0.12,"y":-1.3,"y2":-1.4,"v":83.91},
{"x":-1.16,"x2":-0.82,"y":-1.4,"y2":-1.5,"v":83.91},{"x":-0.65,"x2":-0.45,"y":-1.4,"y2":-1.5,"v":83.91},{"x":-0.11,"x2":0.12,"y":-1.4,"y2":-1.5,"v":83.91},
{"x":-1.5,"x2":-1.13,"y":-1.5,"y2":-1.6,"v":83.91},{"x":-1.06,"x2":-0.86,"y":-1.5,"y2":-1.6,"v":83.91},{"x":-0.65,"x2":-0.45,"y":-1.5,"y2":-1.6,"v":83.91},{"x":-0.31,"x2":0.45,"y":-1.5,"y2":-1.6,"v":83.91},
{"x":-1.55,"x2":-1.2,"y":-1.6,"y2":-1.7,"v":83.91},{"x":-0.52,"x2":-0.38,"y":-1.6,"y2":-1.7,"v":83.91},{"x":-0.28,"x2":0.3,"y":-1.6,"y2":-1.7,"v":83.91},
{"x":-1.7,"x2":-1.23,"y":-1.7,"y2":-1.8,"v":83.91},{"x":-0.06,"x2":0.2,"y":-1.7,"y2":-1.8,"v":83.91},
{"x":-1.9,"x2":-1.36,"y":-1.8,"y2":-1.9,"v":83.91},{"x":-2.2,"x2":-1.6,"y":-1.9,"y2":-2.03,"v":83.91},
{"x":-4.26,"x2":-4.05,"y":2.03,"y2":1.9,"v":83.91},{"x":-3.92,"x2":-3.7,"y":2.03,"y2":1.9,"v":83.91},{"x":-4.29,"x2":-4.07,"y":1.9,"y2":1.8,"v":83.91},{"x":-4.02,"x2":-3.8,"y":1.9,"y2":1.8,"v":83.91},{"x":-4.3,"x2":-4.16,"y":1.8,"y2":1.7,"v":83.91},{"x":-4.04,"x2":-3.9,"y":1.8,"y2":1.7,"v":83.91},{"x":-4.1,"x2":-3.9,"y":1.7,"y2":1.6,"v":83.91},
{"x":-4.157,"x2":-3.5,"y":1.6,"y2":1.4,"v":83.91},{"x":-4.24,"x2":-3.5,"y":1.4,"y2":1.2,"v":83.91},{"x":-4.33,"x2":-3.5,"y":1.2,"y2":1,"v":83.91},{"x":-4.39,"x2":-3.5,"y":1,"y2":0.6,"v":83.91},{"x":-4.48,"x2":-3.5,"y":0.6,"y2":0.4,"v":83.91},{"x":-4.495,"x2":-3.5,"y":0.4,"y2":0,"v":83.91},{"x":-4.53,"x2":-3.5,"y":0,"y2":-0.4,"v":83.91},{"x":-4.46,"x2":-3.5,"y":-0.4,"y2":-0.8,"v":83.91},{"x":-4.43,"x2":-3.5,"y":-0.8,"y2":-1.2,"v":83.91},{"x":-4.36,"x2":-3.5,"y":-1.2,"y2":-1.4,"v":83.91},{"x":-4.29,"x2":-3.5,"y":-1.4,"y2":-1.6,"v":83.91},{"x":-4.21,"x2":-3.5,"y":-1.6,"y2":-1.8,"v":83.91},{"x":-4.17,"x2":-3.5,"y":-1.8,"y2":-2.03,"v":83.91},
{"x":-3.73,"x2":-2.35,"y":2.03,"y2":1.97,"v":97.36},{"x":-3.825,"x2":-2.177,"y":1.97,"y2":1.87,"v":97.36},{"x":-3.886,"x2":-2.058,"y":1.87,"y2":1.77,"v":97.36},{"x":-3.954,"x2":-1.889,"y":1.77,"y2":1.67,"v":97.36},{"x":-4.012,"x2":-1.754,"y":1.67,"y2":1.57,"v":97.36},{"x":-4.072,"x2":-1.6,"y":1.57,"y2":1.47,"v":97.36},{"x":-4.133,"x2":-1.483,"y":1.47,"y2":1.37,"v":97.36},{"x":-4.18,"x2":-1.347,"y":1.37,"y2":1.27,"v":97.36},{"x":-4.225,"x2":-1.229,"y":1.27,"y2":1.17,"v":97.36},{"x":-4.26,"x2":-1.144,"y":1.17,"y2":1.07,"v":97.36},{"x":-4.28,"x2":-0.992,"y":1.07,"y2":0.97,"v":97.36},{"x":-4.3,"x2":-0.89,"y":0.97,"y2":0.87,"v":97.36},{"x":-4.326,"x2":-0.789,"y":0.87,"y2":0.77,"v":97.36},{"x":-4.34,"x2":-0.67,"y":0.77,"y2":0.67,"v":97.36},{"x":-4.35,"x2":-0.552,"y":0.67,"y2":0.57,"v":97.36},{"x":-4.36,"x2":-0.45,"y":0.57,"y2":0.47,"v":97.36},{"x":-4.377,"x2":-0.349,"y":0.47,"y2":0.37,"v":97.36},{"x":-4.418,"x2":-0.23,"y":0.37,"y2":0.27,"v":97.36},{"x":-4.418,"x2":-0.146,"y":0.27,"y2":0.17,"v":97.36},
{"x":-4.418,"x2":-0.49,"y":0.17,"y2":0.07,"v":97.36},{"x":-0.3,"x2":-0.03,"y":0.17,"y2":0.07,"v":97.36},{"x":-4.418,"x2":-0.38,"y":0.07,"y2":-0.03,"v":97.36},{"x":-0.27,"x2":-0.14,"y":0.07,"y2":-0.03,"v":97.36},
{"x":-4.418,"x2":-0.315,"y":-0.03,"y2":-0.13,"v":97.36},{"x":-4.418,"x2":-0.247,"y":-0.13,"y2":-0.23,"v":97.36},{"x":-4.418,"x2":-0.196,"y":-0.23,"y2":-0.33,"v":97.36},{"x":-4.418,"x2":-0.162,"y":-0.33,"y2":-0.43,"v":97.36},{"x":-4.43,"x2":-0.23,"y":-0.43,"y2":-0.53,"v":97.36},{"x":-4.418,"x2":-0.535,"y":-0.53,"y2":-0.63,"v":97.36},{"x":-4.377,"x2":-0.687,"y":-0.63,"y2":-0.73,"v":97.36},{"x":-4.36,"x2":-0.82,"y":-0.73,"y2":-0.83,"v":97.36},{"x":-4.34,"x2":-0.89,"y":-0.83,"y2":-0.93,"v":97.36},{"x":-4.336,"x2":-1.009,"y":-0.93,"y2":-1.03,"v":97.36},{"x":-4.326,"x2":-1.127,"y":-1.03,"y2":-1.13,"v":97.36},{"x":-4.31,"x2":-1.246,"y":-1.13,"y2":-1.23,"v":97.36},{"x":-4.28,"x2":-1.364,"y":-1.23,"y2":-1.33,"v":97.36},{"x":-4.225,"x2":-1.483,"y":-1.33,"y2":-1.43,"v":97.36},{"x":-4.174,"x2":-1.618,"y":-1.43,"y2":-1.53,"v":97.36},{"x":-4.106,"x2":-1.754,"y":-1.53,"y2":-1.63,"v":97.36},{"x":-4.072,"x2":-1.889,"y":-1.63,"y2":-1.73,"v":97.36},{"x":-4.04,"x2":-1.99,"y":-1.73,"y2":-1.83,"v":97.36},{"x":-3.97,"x2":-2.14,"y":-1.83,"y2":-1.93,"v":97.36},{"x":-3.886,"x2":-2.278,"y":-1.93,"y2":-2.03,"v":97.36}
],
"c_lav":[{"x":1.44,"y":-0.2,"v":79.53},{"x":1.4,"y":-0.285,"v":79.53},{"x":1.29,"y":-0.41,"v":79.53},{"x":1.145,"y":-0.34,"v":79.53},{"x":0.96,"y":-0.3,"v":79.53},{"x":1.82,"y":-0.34,"v":79.53},{"x":-0.03,"y":-0.285,"v":79.53},{"x":0.09,"y":-0.47,"v":79.53},{"x":-0.01,"y":-0.51,"v":79.53},{"x":0.78,"y":-1.02,"v":79.53},{"x":0.96,"y":-1.16,"v":79.53},{"x":1.14,"y":-1.33,"v":79.53},{"x":1.33,"y":-1.47,"v":79.53},{"x":1.51,"y":-1.58,"v":79.53},{"x":1.69,"y":-1.71,"v":79.53},{"x":1.84,"y":-1.81,"v":79.53},{"x":0.59,"y":-0.88,"v":79.53},{"x":0.41,"y":-0.74,"v":79.53}],
"c_dots":[
{"x":-1.38,"y":1.93,"v":83.91},{"x":-1.23,"y":1.83,"v":83.91},{"x":-1.23,"y":1.76,"v":83.91},{"x":-1.2,"y":1.59,"v":83.91},{"x":-1.08,"y":1.59,"v":83.91},{"x":-0.96,"y":1.59,"v":83.91},{"x":-0.87,"y":1.44,"v":83.91},{"x":-0.72,"y":1.38,"v":83.91},{"x":-0.69,"y":1.3,"v":83.91},{"x":-0.64,"y":1.24,"v":83.91},{"x":-0.55,"y":1.2,"v":83.91},{"x":-0.35,"y":1,"v":83.91},{"x":-0.23,"y":1,"v":83.91},{"x":-0.21,"y":0.9,"v":83.91},{"x":-0.15,"y":0.82,"v":83.91},{"x":-0.03,"y":0.73,"v":83.91},{"x":0.06,"y":1.83,"v":83.91},{"x":0.01,"y":2,"v":83.91},{"x":-4.5,"y":0.83,"v":83.91},
{"x":-1.06,"y":-1.13,"v":83.91},{"x":-0.79,"y":-1.27,"v":83.91},{"x":-0.53,"y":-1.24,"v":83.91},{"x":-0.45,"y":-1.24,"v":83.91},{"x":-0.35,"y":-1.24,"v":83.91},{"x":-0.2,"y":-1.27,"v":83.91},{"x":-0.35,"y":-0.93,"v":83.91},{"x":-0.04,"y":-0.96,"v":83.91},{"x":-0.55,"y":-0.96,"v":83.91},{"x":-0.72,"y":-1.05,"v":83.91},{"x":-0.86,"y":-1.05,"v":83.91},{"x":-0.97,"y":-1.17,"v":83.91},{"x":-1.08,"y":-1.92,"v":83.91},{"x":-0.97,"y":-1.92,"v":83.91},{"x":-0.86,"y":-1.88,"v":83.91},{"x":-0.79,"y":-1.88,"v":83.91},{"x":-0.7,"y":-1.88,"v":83.91},{"x":-1.14,"y":-2,"v":83.91},{"x":-0.06,"y":-1.93,"v":83.91},{"x":-0.26,"y":-1.84,"v":83.91},{"x":-0.89,"y":-1.72,"v":83.91},{"x":-1.09,"y":-1.4,"v":83.91},
{"x":-0.27,"y":-1.84,"v":83.91},{"x":-0.07,"y":-1.93,"v":83.91},{"x":0.03,"y":-1.93,"v":83.91},{"x":0.1,"y":-1.95,"v":83.91},{"x":0.23,"y":-1.96,"v":83.91},{"x":0.47,"y":-1.88,"v":83.91},{"x":0.74,"y":-1.95,"v":83.91},{"x":0.85,"y":-2,"v":83.91},{"x":0.92,"y":-1.57,"v":83.91},{"x":1.13,"y":-1.68,"v":83.91},{"x":1.06,"y":-1.97,"v":83.91},{"x":0.89,"y":-1.87,"v":83.91},{"x":0.96,"y":-1.89,"v":83.91},{"x":0.78,"y":-1.77,"v":83.91},{"x":0.63,"y":-1.33,"v":83.91},{"x":-0.19,"y":-1.27,"v":83.91},{"x":-0.1,"y":-1.27,"v":83.91},{"x":0.12,"y":-1.4,"v":83.91},{"x":0.47,"y":-1.55,"v":83.91},{"x":1.46,"y":-1.88,"v":83.91},{"x":0.17,"y":-1.08,"v":83.91},{"x":0.34,"y":-1.16,"v":83.91},
{"x":3.95,"y":2,"v":83.91},{"x":4.04,"y":2,"v":83.91},{"x":4.13,"y":1.86,"v":83.91},{"x":4.26,"y":1.83,"v":83.91},{"x":4.34,"y":1.66,"v":83.91},{"x":4.45,"y":1.46,"v":83.91},{"x":4.48,"y":1.35,"v":83.91},{"x":4.54,"y":1.27,"v":83.91},{"x":4.45,"y":1.13,"v":83.91},{"x":4.73,"y":1.07,"v":83.91},{"x":4.59,"y":1.01,"v":83.91},{"x":4.66,"y":0.92,"v":83.91},{"x":4.56,"y":0.84,"v":83.91},{"x":4.61,"y":0.7,"v":83.91},{"x":4.67,"y":0.59,"v":83.91},{"x":4.73,"y":0.55,"v":83.91},{"x":4.67,"y":0.48,"v":83.91},{"x":4.76,"y":0.36,"v":83.91},{"x":4.7,"y":0.28,"v":83.91},{"x":4.76,"y":0.22,"v":83.91},{"x":4.72,"y":0.45,"v":83.91},{"x":4.76,"y":0.05,"v":83.91},{"x":4.81,"y":-0.06,"v":83.91},{"x":4.73,"y":-0.17,"v":83.91},{"x":4.76,"y":-0.31,"v":83.91},{"x":4.76,"y":-0.38,"v":83.91},{"x":4.76,"y":-0.45,"v":83.91},{"x":4.74,"y":-0.6,"v":83.91},{"x":4.73,"y":-0.76,"v":83.91},{"x":4.72,"y":-0.99,"v":83.91},{"x":4.68,"y":-1.2,"v":83.91},{"x":4.67,"y":-1.33,"v":83.91},{"x":4.59,"y":-1.47,"v":83.91},{"x":4.52,"y":-1.61,"v":83.91},{"x":4.48,"y":-1.72,"v":83.91},{"x":4.41,"y":-1.92,"v":83.91},{"x":4.37,"y":-1.97,"v":83.91},{"x":4.83,"y":2,"v":83.91},{"x":4.86,"y":1.93,"v":83.91},{"x":4.9,"y":1.84,"v":83.91},{"x":4.93,"y":1.67,"v":83.91},
{"x":4.13,"y":1.77,"v":83.91},{"x":4.23,"y":1.69,"v":83.91},{"x":4.28,"y":1.55,"v":83.91},{"x":4.37,"y":1.45,"v":83.91},{"x":4.45,"y":1.27,"v":83.91},{"x":4.52,"y":1.07,"v":83.91},{"x":4.56,"y":0.96,"v":83.91},{"x":4.61,"y":0.79,"v":83.91},{"x":4.68,"y":0.45,"v":83.91},{"x":4.74,"y":0.17,"v":83.91},{"x":4.73,"y":-0.26,"v":83.91},{"x":4.7,"y":-0.65,"v":83.91},{"x":4.67,"y":-0.99,"v":83.91},{"x":4.72,"y":-1.1,"v":83.91},{"x":4.61,"y":-1.36,"v":83.91},{"x":4.48,"y":-1.58,"v":83.91},{"x":4.45,"y":-1.84,"v":83.91},
{"x":-1.78,"y":2,"v":97.36},{"x":-1.5,"y":2,"v":97.36},{"x":-1.59,"y":1.8,"v":97.36},{"x":-1.67,"y":1.72,"v":97.36},{"x":-1.14,"y":1.72,"v":97.36},{"x":-4.3,"y":1.63,"v":97.36},{"x":-4.34,"y":1.55,"v":97.36},{"x":-0.47,"y":1.12,"v":97.36},{"x":-4.54,"y":0.96,"v":97.36},{"x":-4.63,"y":0.8,"v":97.36},{"x":-4.63,"y":0.6,"v":97.36},{"x":-4.66,"y":0.43,"v":97.36},{"x":-4.66,"y":0.39,"v":97.36},{"x":-4.86,"y":-0.84,"v":97.36},{"x":-4.66,"y":-0.84,"v":97.36},{"x":-4.43,"y":-0.84,"v":97.36},{"x":-4.66,"y":-1.13,"v":97.36},{"x":-4.43,"y":-1.13,"v":97.36},{"x":-4.5,"y":-1.88,"v":97.36},{"x":-4.58,"y":-2,"v":97.36},{"x":-0.19,"y":-0.44,"v":97.36},{"x":-0.19,"y":-0.64,"v":97.36},{"x":-0.03,"y":-0.68,"v":97.36},{"x":-0.54,"y":-0.68,"v":97.36},{"x":-0.43,"y":-0.8,"v":97.36},{"x":-0.26,"y":-1.37,"v":97.36},{"x":-0.1,"y":-1.4,"v":97.36},{"x":-1.3,"y":-1.57,"v":97.36},{"x":-0.59,"y":-1.57,"v":97.36},{"x":-1.1,"y":-1.68,"v":97.36},{"x":0.02,"y":-1.6,"v":97.36},{"x":-0.23,"y":-1.73,"v":97.36},{"x":-1.5,"y":-1.96,"v":97.36},
{"x":0.5,"y":2,"v":97.36},{"x":0.29,"y":1.72,"v":97.36},{"x":0.26,"y":1.55,"v":97.36},{"x":0.7,"y":1.52,"v":97.36},{"x":0.57,"y":1.07,"v":97.36},{"x":0.86,"y":1.07,"v":97.36},{"x":0.9,"y":0.99,"v":97.36},{"x":0.94,"y":0.92,"v":97.36},{"x":0.97,"y":0.83,"v":97.36},{"x":1.02,"y":0.76,"v":97.36},{"x":0.97,"y":0.72,"v":97.36},{"x":0.7,"y":0.4,"v":97.36},{"x":0.57,"y":0.07,"v":97.36},{"x":0.57,"y":-0.08,"v":97.36},{"x":0.7,"y":-0.17,"v":97.36},{"x":0.34,"y":-0.68,"v":97.36},{"x":0.37,"y":-1.73,"v":97.36},{"x":0.13,"y":-1.8,"v":97.36},{"x":0.26,"y":-1.84,"v":97.36},{"x":0.57,"y":-1.78,"v":97.36},{"x":0.62,"y":-1.8,"v":97.36},{"x":0.54,"y":-1.96,"v":97.36},
{"x":-0.12,"y":0.1,"v":97.36},{"x":-0.07,"y":0.05,"v":97.36},{"x":-0.02,"y":0,"v":97.36},{"x":0.03,"y":-0.05,"v":97.36},{"x":0.08,"y":-0.1,"v":97.36},{"x":0.12,"y":-0.15,"v":97.36},{"x":0.17,"y":-0.2,"v":97.36},{"x":0.22,"y":-0.25,"v":97.36},{"x":0.27,"y":-0.3,"v":97.36},{"x":0.32,"y":-0.35,"v":97.36},{"x":0.37,"y":-0.4,"v":97.36},{"x":0.42,"y":-0.45,"v":97.36},{"x":0.47,"y":-0.5,"v":97.36},{"x":0.52,"y":-0.55,"v":97.36},{"x":0.54,"y":-0.525,"v":97.36},{"x":0.57,"y":-0.6,"v":97.36},{"x":0.62,"y":-0.65,"v":97.36},{"x":0.66,"y":-0.7,"v":97.36},{"x":0.71,"y":-0.75,"v":97.36},{"x":0.76,"y":-0.8,"v":97.36},{"x":0.81,"y":-0.85,"v":97.36},{"x":0.85,"y":-0.89,"v":97.36}
],
"c_specks":[{"x":-4.75,"y":-0.12},{"x":-4.75,"y":-0.17},{"x":-4.75,"y":-0.22},{"x":-4.75,"y":-0.27},{"x":-4.75,"y":-0.32},{"x":-4.75,"y":-0.37},{"x":-4.75,"y":-0.42},{"x":-4.75,"y":-0.47},{"x":-4.5,"y":1.3},{"x":-4.46,"y":1.38},{"x":-4.36,"y":1.66},{"x":-4.53,"y":1.27},{"x":-4.61,"y":0.93},{"x":-4.66,"y":0.72},{"x":-4.73,"y":-1.06},{"x":-0.6,"y":0.36},{"x":-0.42,"y":0.11},{"x":-0.35,"y":0.08},{"x":-0.87,"y":-0.71},{"x":-1.23,"y":1.13}]
},
"vconcat":[
{"resolve":{"scale":{"color":"independent","stroke":"independent"}},"hconcat":[
{"width":2272,"height":917,"title":{"text":"(a)","orient":"bottom","font":"Liberation Serif","fontWeight":"bold","fontSize":72,"color":"black","offset":44,"dx":74},
"encoding":{"x":{"field":"x","type":"quantitative","title":"x","scale":{"domain":[-5.01,5.04],"nice":false,"zero":false},"axis":{"values":[-4,-2,0,2,4],"labelExpr":"''+datum.value","labelPadding":42,"titlePadding":30}},"y":{"field":"y","type":"quantitative","title":"y","scale":{"domain":[-2.03,2.03],"nice":false,"zero":false},"axis":{"values":[-2,0,2],"labelExpr":"''+datum.value","labelPadding":26,"titlePadding":26}},"color":{"field":"v","type":"quantitative","legend":null,"scale":{"domain":[96.43,97.025,97.62,98.215,98.81,99.405,100],"range":["#d0d1e6","#a6bddb","#67a9cf","#3690c0","#02818a","#016c59","#014636"],"interpolate":"rgb"}}},
"layer":[{"data":{"name":"a_spans"},"mark":{"type":"rect","strokeWidth":1.5},"encoding":{"x2":{"field":"x2"},"y2":{"field":"y2"},"stroke":{"field":"v","type":"quantitative","legend":null,"scale":{"domain":[96.43,97.025,97.62,98.215,98.81,99.405,100],"range":["#d0d1e6","#a6bddb","#67a9cf","#3690c0","#02818a","#016c59","#014636"],"interpolate":"rgb"}}}}]},
{"width":92,"height":917,"data":{"values":[{"lo":96.43,"hi":100}]},"mark":{"type":"rect","stroke":"#262626","strokeWidth":4,"fill":{"gradient":"linear","x1":0,"y1":1,"x2":0,"y2":0,"stops":[{"offset":0,"color":"#d0d1e6"},{"offset":0.1667,"color":"#a6bddb"},{"offset":0.3333,"color":"#67a9cf"},{"offset":0.5,"color":"#3690c0"},{"offset":0.6667,"color":"#02818a"},{"offset":0.8333,"color":"#016c59"},{"offset":1,"color":"#014636"}]}},
"encoding":{"y":{"field":"lo","type":"quantitative","scale":{"domain":[96.394,100.056],"nice":false,"zero":false},"axis":{"orient":"right","title":null,"values":[96.43,97.36,100],"labelExpr":"''+datum.value","ticks":true,"tickSize":-14,"tickWidth":2,"tickColor":"black","labelPadding":43,"labelAlign":"left","labelBaseline":"middle","zindex":1}},"y2":{"field":"hi"}}}
],"spacing":40,"bounds":"flush"},
{"resolve":{"scale":{"color":"independent","stroke":"independent"}},"hconcat":[
{"width":2272,"height":917,"title":{"text":"(b)","orient":"bottom","font":"Liberation Serif","fontWeight":"bold","fontSize":72,"color":"black","offset":44,"dx":74},
"encoding":{"x":{"field":"x","type":"quantitative","title":"x","scale":{"domain":[-5.01,5.04],"nice":false,"zero":false},"axis":{"values":[-4,-2,0,2,4],"labelExpr":"''+datum.value","labelPadding":42,"titlePadding":30}},"y":{"field":"y","type":"quantitative","title":"y","scale":{"domain":[-2.03,2.03],"nice":false,"zero":false},"axis":{"values":[-2,0,2],"labelExpr":"''+datum.value","labelPadding":26,"titlePadding":26}},"color":{"field":"v","type":"quantitative","legend":null,"scale":{"domain":[87.175,88.948,90.722,92.495,94.268,96.042,97.815],"range":["#d0d1e6","#a6bddb","#67a9cf","#3690c0","#02818a","#016c59","#014636"],"interpolate":"rgb"}}},
"layer":[{"data":{"name":"b_spans"},"mark":{"type":"rect","strokeWidth":1.5},"encoding":{"x2":{"field":"x2"},"y2":{"field":"y2"},"stroke":{"field":"v","type":"quantitative","legend":null,"scale":{"domain":[87.175,88.948,90.722,92.495,94.268,96.042,97.815],"range":["#d0d1e6","#a6bddb","#67a9cf","#3690c0","#02818a","#016c59","#014636"],"interpolate":"rgb"}}}},
{"data":{"name":"b_dots"},"mark":{"type":"circle","size":300,"opacity":1,"clip":true}},
{"data":{"name":"b_specks"},"mark":{"type":"circle","size":80,"opacity":1,"clip":true},"encoding":{"color":{"value":"white"}}}]},
{"width":92,"height":917,"data":{"values":[{"lo":87.175,"hi":97.815}]},"mark":{"type":"rect","stroke":"#262626","strokeWidth":4,"fill":{"gradient":"linear","x1":0,"y1":1,"x2":0,"y2":0,"stops":[{"offset":0,"color":"#d0d1e6"},{"offset":0.1667,"color":"#a6bddb"},{"offset":0.3333,"color":"#67a9cf"},{"offset":0.5,"color":"#3690c0"},{"offset":0.6667,"color":"#02818a"},{"offset":0.8333,"color":"#016c59"},{"offset":1,"color":"#014636"}]}},
"encoding":{"y":{"field":"lo","type":"quantitative","scale":{"domain":[87.092,97.886],"nice":false,"zero":false},"axis":{"orient":"right","title":null,"values":[87.21,91.25,97.78],"labelExpr":"''+datum.value","ticks":true,"tickSize":-14,"tickWidth":2,"tickColor":"black","labelPadding":43,"labelAlign":"left","labelBaseline":"middle","zindex":1}},"y2":{"field":"hi"}}}
],"spacing":40,"bounds":"flush"},
{"resolve":{"scale":{"color":"independent","stroke":"independent"}},"hconcat":[
{"width":2272,"height":917,"title":{"text":"(c)","orient":"bottom","font":"Liberation Serif","fontWeight":"bold","fontSize":72,"color":"black","offset":44,"dx":74},
"encoding":{"x":{"field":"x","type":"quantitative","title":"x","scale":{"domain":[-5.01,5.04],"nice":false,"zero":false},"axis":{"values":[-4,-2,0,2,4],"labelExpr":"''+datum.value","labelPadding":42,"titlePadding":30}},"y":{"field":"y","type":"quantitative","title":"y","scale":{"domain":[-2.03,2.03],"nice":false,"zero":false},"axis":{"values":[-2,0,2],"labelExpr":"''+datum.value","labelPadding":26,"titlePadding":26}},"color":{"field":"v","type":"quantitative","legend":null,"scale":{"domain":[79.006,82.163,85.32,88.476,91.633,94.79,97.947],"range":["#d0d1e6","#a6bddb","#67a9cf","#3690c0","#02818a","#016c59","#014636"],"interpolate":"rgb"}}},
"layer":[{"data":{"name":"c_spans"},"mark":{"type":"rect","strokeWidth":1.5},"encoding":{"x2":{"field":"x2"},"y2":{"field":"y2"},"stroke":{"field":"v","type":"quantitative","legend":null,"scale":{"domain":[79.006,82.163,85.32,88.476,91.633,94.79,97.947],"range":["#d0d1e6","#a6bddb","#67a9cf","#3690c0","#02818a","#016c59","#014636"],"interpolate":"rgb"}}}},
{"data":{"name":"c_lav"},"mark":{"type":"circle","size":90,"opacity":1,"clip":true}},
{"data":{"name":"c_dots"},"mark":{"type":"circle","size":300,"opacity":1,"clip":true}},
{"data":{"name":"c_specks"},"mark":{"type":"circle","size":80,"opacity":1,"clip":true},"encoding":{"color":{"value":"white"}}}]},
{"width":92,"height":917,"data":{"values":[{"lo":79.006,"hi":97.947}]},"mark":{"type":"rect","stroke":"#262626","strokeWidth":4,"fill":{"gradient":"linear","x1":0,"y1":1,"x2":0,"y2":0,"stops":[{"offset":0,"color":"#d0d1e6"},{"offset":0.1667,"color":"#a6bddb"},{"offset":0.3333,"color":"#67a9cf"},{"offset":0.5,"color":"#3690c0"},{"offset":0.6667,"color":"#02818a"},{"offset":0.8333,"color":"#016c59"},{"offset":1,"color":"#014636"}]}},
"encoding":{"y":{"field":"lo","type":"quantitative","scale":{"domain":[78.88,98.093],"nice":false,"zero":false},"axis":{"orient":"right","title":null,"values":[79.53,83.91,97.36],"labelExpr":"''+datum.value","ticks":true,"tickSize":-14,"tickWidth":2,"tickColor":"black","labelPadding":43,"labelAlign":"left","labelBaseline":"middle","zindex":1}},"y2":{"field":"hi"}}}
],"spacing":40,"bounds":"flush"}
],"spacing":1372,"bounds":"flush"
}
